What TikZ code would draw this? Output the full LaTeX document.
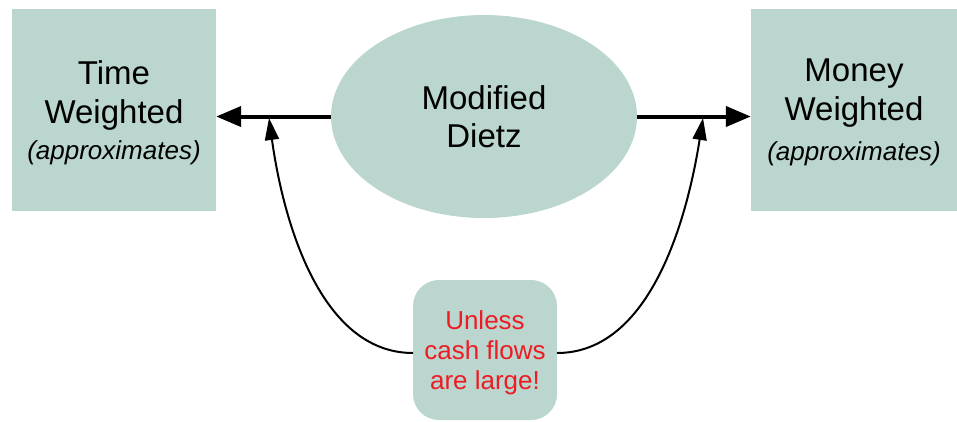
\documentclass[tikz,border=0pt]{standalone}
\usepackage{fontspec}
\setmainfont{Liberation Sans}
\usetikzlibrary{arrows.meta,shapes.geometric}
\definecolor{boxfill}{RGB}{186,214,207}
\definecolor{warnred}{RGB}{237,28,36}
\tikzset{
  sqbox/.style={rectangle, fill=boxfill, inner sep=0pt, align=center,
    font=\fontsize{33}{39}\selectfont},
  ovalbox/.style={ellipse, fill=boxfill, inner sep=0pt, align=center,
    font=\fontsize{33}{38}\selectfont},
  notebox/.style={rectangle, rounded corners=26pt, fill=boxfill, inner sep=0pt,
    align=center, text=warnred, font=\fontsize{26}{30}\selectfont},
  bigarrow/.style={line width=4pt, -{Triangle[length=25pt,width=20pt]}},
  curvearrow/.style={line width=2pt, -{Triangle[length=22pt,width=14pt]}},
}
\newcommand{\approxtxt}{{\fontsize{26}{31}\selectfont\itshape (approximates)}}
\newcommand{\shiftdown}[2]{\raisebox{-#1}[\height][\depth]{#2}}
\begin{document}
\begin{tikzpicture}[x=1pt,y=-1pt]
\useasboundingbox (0,0) rectangle (957,421);
\node[sqbox, minimum width=204pt, minimum height=202pt] (tw) at (114,110)
  {\shiftdown{3pt}{\parbox{200pt}{\centering Time\\Weighted\\[-3pt]\approxtxt}}};
\node[sqbox, minimum width=206pt, minimum height=202pt] (mw) at (854,110)
  {\shiftdown{2pt}{\parbox{200pt}{\centering Money\\Weighted\\[1pt]\approxtxt}}};
\node[ovalbox, minimum width=306pt, minimum height=203pt] (md) at (484,116.5)
  {Modified\\Dietz};
\node[notebox, minimum width=144pt, minimum height=140pt] (nb) at (485,350)
  {\shiftdown{3pt}{\parbox{140pt}{\centering Unless\\cash flows\\are large!}}};
\draw[bigarrow] (md.west) -- (md.west -| tw.east);
\draw[bigarrow] (md.east) -- (md.east -| mw.west);
\coordinate (ltip) at (269,118);
\coordinate (rtip) at (703,118);
\coordinate (lstart) at (413,353);
\coordinate (rstart) at (557,353);
\draw[curvearrow] (lstart) .. controls (320,353) and (283,220) .. (ltip);
\draw[curvearrow] (rstart) .. controls (650,353) and (687,220) .. (rtip);
\end{tikzpicture}
\end{document}
